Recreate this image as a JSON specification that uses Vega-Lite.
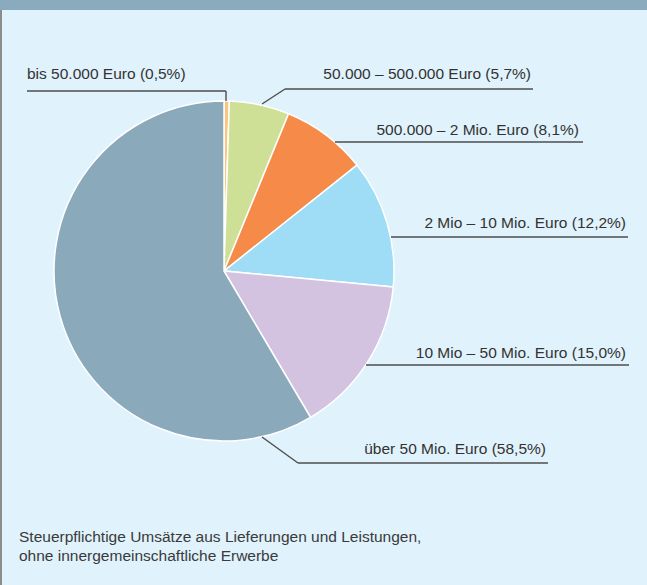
{
  "$schema": "https://vega.github.io/schema/vega-lite/v6.json",
  "width": 340,
  "height": 340,
  "autosize": "none",
  "padding": {"left": 54, "top": 101, "right": 253, "bottom": 144},
  "background": "#e0f2fc",
  "config": {"view": {"stroke": null}, "font": "Liberation Sans"},
  "datasets": {
    "slices": [
      {"rank": 1, "klasse": "bis 50.000 Euro", "anteil": 0.5},
      {"rank": 2, "klasse": "50.000 – 500.000 Euro", "anteil": 5.7},
      {"rank": 3, "klasse": "500.000 – 2 Mio. Euro", "anteil": 8.1},
      {"rank": 4, "klasse": "2 Mio – 10 Mio. Euro", "anteil": 12.2},
      {"rank": 5, "klasse": "10 Mio – 50 Mio. Euro", "anteil": 15.0},
      {"rank": 6, "klasse": "über 50 Mio. Euro", "anteil": 58.5}
    ],
    "leaders": [
      {"x": -1.1588, "y": 1.0588, "x2": 0.0118, "y2": 1.0588},
      {"x": 0.0118, "y": 1.0588, "x2": 0.0118, "y2": 1.0},
      {"x": 1.8176, "y": 1.0706, "x2": 0.3588, "y2": 1.0706},
      {"x": 0.3588, "y": 1.0706, "x2": 0.2235, "y2": 0.9824},
      {"x": 0.6529, "y": 0.7588, "x2": 2.1118, "y2": 0.7588},
      {"x": 0.9824, "y": 0.2, "x2": 2.3765, "y2": 0.2},
      {"x": 0.8353, "y": -0.5529, "x2": 2.3824, "y2": -0.5529},
      {"x": 0.2235, "y": -0.9765, "x2": 0.4353, "y2": -1.1294},
      {"x": 0.4353, "y": -1.1294, "x2": 1.9059, "y2": -1.1294}
    ],
    "labels": [
      {"label": "bis 50.000 Euro (0,5%)", "x": -1.1588, "y": 1.1294, "side": "left"},
      {"label": "50.000 – 500.000 Euro (5,7%)", "x": 1.806, "y": 1.1294, "side": "right"},
      {"label": "500.000 – 2 Mio. Euro (8,1%)", "x": 2.088, "y": 0.8, "side": "right"},
      {"label": "2 Mio – 10 Mio. Euro (12,2%)", "x": 2.3647, "y": 0.2529, "side": "right"},
      {"label": "10 Mio – 50 Mio. Euro (15,0%)", "x": 2.3647, "y": -0.5118, "side": "right"},
      {"label": "über 50 Mio. Euro (58,5%)", "x": 1.8941, "y": -1.0765, "side": "right"}
    ],
    "caption": [
      {"text": "Steuerpflichtige Umsätze aus Lieferungen und Leistungen,\nohne innergemeinschaftliche Erwerbe", "x": -1.2059, "y": -1.5941}
    ]
  },
  "layer": [
    {
      "data": {"values": [{}]},
      "mark": {"type": "rect", "color": "#8aabbd", "clip": false},
      "encoding": {
        "x": {"datum": -1.4, "type": "quantitative", "scale": {"domain": [-1, 1], "nice": false, "zero": false}, "axis": null},
        "x2": {"datum": 2.6},
        "y": {"datum": 1.535, "type": "quantitative", "scale": {"domain": [-1, 1], "nice": false, "zero": false}, "axis": null},
        "y2": {"datum": 1.7}
      }
    },
    {
      "data": {"values": [{}]},
      "mark": {"type": "rect", "color": "#8c8c8c", "clip": false},
      "encoding": {
        "x": {"datum": -1.33, "type": "quantitative", "scale": {"domain": [-1, 1], "nice": false, "zero": false}, "axis": null},
        "x2": {"datum": -1.3059},
        "y": {"datum": -2.0, "type": "quantitative", "scale": {"domain": [-1, 1], "nice": false, "zero": false}, "axis": null},
        "y2": {"datum": 1.535}
      }
    },
    {
      "data": {"name": "slices"},
      "mark": {"type": "arc", "stroke": "white", "strokeWidth": 1.5},
      "encoding": {
        "theta": {"field": "anteil", "type": "quantitative", "stack": true},
        "order": {"field": "rank", "type": "quantitative"},
        "color": {
          "field": "klasse",
          "type": "nominal",
          "legend": null,
          "scale": {
            "domain": ["bis 50.000 Euro", "50.000 – 500.000 Euro", "500.000 – 2 Mio. Euro", "2 Mio – 10 Mio. Euro", "10 Mio – 50 Mio. Euro", "über 50 Mio. Euro"],
            "range": ["#fcc57f", "#cde096", "#f68a48", "#9fdcf6", "#d3c3e0", "#8aaabb"]
          }
        }
      }
    },
    {
      "data": {"name": "leaders"},
      "mark": {"type": "rule", "color": "#4d4d4d", "strokeWidth": 1.4, "clip": false},
      "encoding": {
        "x": {"field": "x", "type": "quantitative", "scale": {"domain": [-1, 1], "nice": false, "zero": false}, "axis": null},
        "y": {"field": "y", "type": "quantitative", "scale": {"domain": [-1, 1], "nice": false, "zero": false}, "axis": null},
        "x2": {"field": "x2"},
        "y2": {"field": "y2"}
      }
    },
    {
      "data": {"name": "labels"},
      "transform": [{"filter": "datum.side === 'right'"}],
      "mark": {"type": "text", "align": "right", "baseline": "alphabetic", "fontSize": 15.5, "color": "#333333", "clip": false},
      "encoding": {
        "x": {"field": "x", "type": "quantitative", "scale": {"domain": [-1, 1], "nice": false, "zero": false}, "axis": null},
        "y": {"field": "y", "type": "quantitative", "scale": {"domain": [-1, 1], "nice": false, "zero": false}, "axis": null},
        "text": {"field": "label"}
      }
    },
    {
      "data": {"name": "labels"},
      "transform": [{"filter": "datum.side === 'left'"}],
      "mark": {"type": "text", "align": "left", "baseline": "alphabetic", "fontSize": 15.5, "color": "#333333", "clip": false},
      "encoding": {
        "x": {"field": "x", "type": "quantitative", "scale": {"domain": [-1, 1], "nice": false, "zero": false}, "axis": null},
        "y": {"field": "y", "type": "quantitative", "scale": {"domain": [-1, 1], "nice": false, "zero": false}, "axis": null},
        "text": {"field": "label"}
      }
    },
    {
      "data": {"name": "caption"},
      "mark": {"type": "text", "align": "left", "baseline": "alphabetic", "fontSize": 15.5, "lineBreak": "\n", "lineHeight": 19, "color": "#3a3a3a", "clip": false},
      "encoding": {
        "x": {"field": "x", "type": "quantitative", "scale": {"domain": [-1, 1], "nice": false, "zero": false}, "axis": null},
        "y": {"field": "y", "type": "quantitative", "scale": {"domain": [-1, 1], "nice": false, "zero": false}, "axis": null},
        "text": {"field": "text"}
      }
    }
  ]
}
